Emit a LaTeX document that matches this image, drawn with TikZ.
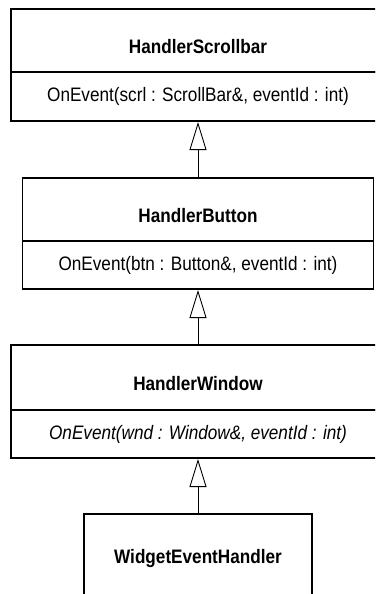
\documentclass[tikz,border=0pt]{standalone}
\usepackage{fontspec}
\setmainfont{Liberation Sans}[FakeStretch=0.88]
\usetikzlibrary{positioning,arrows.meta}

\begin{document}
\begin{tikzpicture}[x=1pt, y=-1pt, node distance={57pt},
    main/.style = {draw, line width=1.8pt, outer sep=0pt, minimum width=374pt, minimum height=63pt, font=\fontsize{19.5}{22}\selectfont\bfseries, text height=25pt, text depth=0pt},
    op/.style = {draw, line width=1.8pt, outer sep=0pt, minimum width=374pt, minimum height=49pt, font=\fontsize{19.5}{22}\selectfont},
    inherit/.style = {-{Triangle[open, length=28pt, width=17pt]}, line width=0.9pt, shorten >=1pt}]
    \useasboundingbox (0,0) rectangle (375,594);
    \clip (0,0) rectangle (375,594);
        \node[main, anchor=north] (1) at (198,9) {HandlerScrollbar};
        \node[op] (1m) [below=0pt of 1] {OnEvent(scrl : ScrollBar\&, eventId : int)};
        \node[main, minimum width=351pt] (2) [below=of 1m] {HandlerButton};
        \node[op, minimum width=351pt, minimum height=48pt] (2m) [below=0pt of 2] {OnEvent(btn : Button\&, eventId : int)};
        \node[main, minimum height=65pt] (3) [below=56pt of 2m] {HandlerWindow};
        \node[op, minimum height=48pt, font=\fontsize{19.5}{22}\selectfont\itshape] (3m) [below=0pt of 3] {OnEvent(wnd : Window\&, eventId : int)};
        \node[main, minimum width=228pt, minimum height=84pt, text height=14pt] (4) [below=56pt of 3m] {WidgetEventHandler};
        \draw[inherit] (2) -- (1m);
        \draw[inherit] (3) -- (2m);
        \draw[inherit] (4) -- (3m);
    \end{tikzpicture}
\end{document}
